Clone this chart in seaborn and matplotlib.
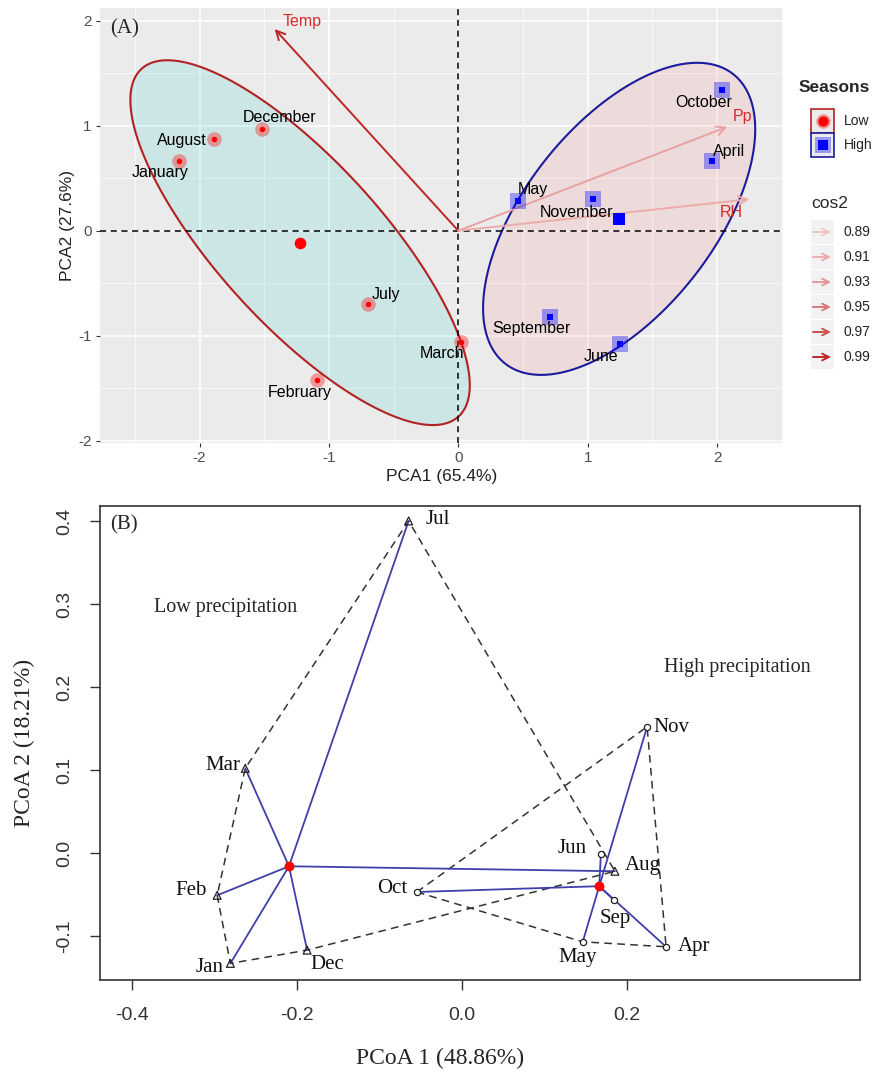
import numpy as np
import pandas as pd
import matplotlib
matplotlib.use('Agg')
import matplotlib.pyplot as plt
import seaborn as sns
from matplotlib.patches import Polygon, Rectangle
from matplotlib.colors import LinearSegmentedColormap, Normalize

# ---- Panel A: PCA biplot ----
months_a = ['January', 'August', 'December', 'July', 'February', 'March',
            'May', 'November', 'October', 'April', 'September', 'June']
pca1 = [-2.16, -1.89, -1.52, -0.70, -1.09, 0.02, 0.46, 1.04, 2.04, 1.96, 0.71, 1.25]
pca2 = [0.66, 0.87, 0.97, -0.70, -1.42, -1.06, 0.28, 0.30, 1.34, 0.66, -0.82, -1.08]
season_a = ['Low'] * 6 + ['High'] * 6
variables = ['Temp', 'Pp', 'RH']
var_pca1 = [-1.42, 2.08, 2.25]
var_pca2 = [1.92, 0.99, 0.30]
var_cos2 = [0.99, 0.92, 0.91]
cos2_levels = [0.89, 0.91, 0.93, 0.95, 0.97, 0.99]

# ---- Panel B: PCoA (betadisper) ----
months_b = ['Jul', 'Mar', 'Feb', 'Jan', 'Dec', 'Aug',
            'Nov', 'Jun', 'Oct', 'Sep', 'May', 'Apr']
pcoa1 = [-0.065, -0.263, -0.297, -0.281, -0.188, 0.185,
         0.224, 0.168, -0.055, 0.184, 0.146, 0.247]
pcoa2 = [0.400, 0.102, -0.051, -0.133, -0.117, -0.022,
         0.152, -0.001, -0.047, -0.057, -0.107, -0.113]
group_b = ['Low'] * 6 + ['High'] * 6
centroid_groups = ['Low', 'High']
centroid_x = [-0.210, 0.166]
centroid_y = [-0.016, -0.040]

df_a = pd.DataFrame({'month': months_a, 'x': pca1, 'y': pca2, 'season': season_a})
df_b = pd.DataFrame({'month': months_b, 'x': pcoa1, 'y': pcoa2, 'group': group_b})

ELLIPSE_SCALE = 2.65


def conf_ellipse(x, y, scale, n=240):
    pts = np.column_stack([x, y])
    mu = pts.mean(axis=0)
    vals, vecs = np.linalg.eigh(np.cov(pts.T) * scale)
    t = np.linspace(0, 2 * np.pi, n)
    circ = np.column_stack([np.cos(t), np.sin(t)]) * np.sqrt(vals)
    return mu + circ @ vecs.T


def convex_hull(pts):
    pts = sorted(map(tuple, pts))

    def cross(o, a, b):
        return (a[0] - o[0]) * (b[1] - o[1]) - (a[1] - o[1]) * (b[0] - o[0])
    lower, upper = [], []
    for p in pts:
        while len(lower) >= 2 and cross(lower[-2], lower[-1], p) <= 0:
            lower.pop()
        lower.append(p)
    for p in reversed(pts):
        while len(upper) >= 2 and cross(upper[-2], upper[-1], p) <= 0:
            upper.pop()
        upper.append(p)
    return np.array(lower[:-1] + upper[:-1])


sns.set_theme(style='white')
plt.rcParams['font.family'] = ['Liberation Sans', 'DejaVu Sans']
plt.rcParams['axes.unicode_minus'] = False

W, H = 872, 1073
fig = plt.figure(figsize=(W / 100, H / 100), dpi=100)


def px_axes(x0, y0, x1, y1):
    return fig.add_axes([x0 / W, 1 - y1 / H, (x1 - x0) / W, (y1 - y0) / H])


# ================= Panel A =================
axA = px_axes(100, 8, 783, 443)
axA.set_facecolor('#EBEBEB')
axA.set_xlim(-2.77, 2.51)
axA.set_ylim(-2.02, 2.12)
axA.set_xticks([-2, -1, 0, 1, 2])
axA.set_yticks([-2, -1, 0, 1, 2])
axA.set_xticks([-2.5, -1.5, -0.5, 0.5, 1.5, 2.5], minor=True)
axA.set_yticks([-1.5, -0.5, 0.5, 1.5], minor=True)
axA.grid(which='major', color='white', lw=1.1, zorder=0)
axA.grid(which='minor', color='white', lw=0.5, zorder=0)
axA.set_axisbelow(True)
for s in axA.spines.values():
    s.set_visible(False)
axA.tick_params(which='major', length=3, width=0.8, color='#333333',
                labelsize=11, labelcolor='#4D4D4D', pad=3,
                left=True, bottom=True)
axA.tick_params(which='minor', length=0)

ell_style = {'Low': dict(face='#00BFC4', edge='#B22222'),
             'High': dict(face='#F8766D', edge='#1C1C9C')}
for g in ['Low', 'High']:
    sub = df_a[df_a.season == g]
    e = conf_ellipse(sub.x, sub.y, ELLIPSE_SCALE)
    axA.add_patch(Polygon(e, closed=True, facecolor=ell_style[g]['face'],
                          alpha=0.13, edgecolor='none', zorder=1))
    axA.add_patch(Polygon(e, closed=True, facecolor='none',
                          edgecolor=ell_style[g]['edge'], lw=1.5, zorder=2))

axA.axhline(0, color='black', lw=1.1, ls=(0, (4, 3)), zorder=3)
axA.axvline(0, color='black', lw=1.1, ls=(0, (4, 3)), zorder=3)

cmap = LinearSegmentedColormap.from_list('cos2', ['#F3C9C9', '#E48A8A', '#B81E1E'])
norm = Normalize(0.885, 0.995)
var_label_off = {'Temp': (27, 8), 'Pp': (15, 10), 'RH': (-18, -13)}
for v, vx, vy, c2 in zip(variables, var_pca1, var_pca2, var_cos2):
    col = cmap(norm(c2))
    axA.annotate('', xy=(vx, vy), xytext=(0, 0),
                 arrowprops=dict(arrowstyle='->', color=col, lw=1.4,
                                 mutation_scale=16, shrinkA=0, shrinkB=0),
                 zorder=4)
    axA.annotate(v, xy=(vx, vy), xytext=var_label_off[v], textcoords='offset pixels',
                 ha='center', va='center', color='#D62A2A', fontsize=11.5, zorder=6)

season_col = {'Low': '#FF0000', 'High': '#0000FF'}
season_mark = {'Low': 'o', 'High': 's'}
halo_size = {'Low': 110, 'High': 140}
for g in ['Low', 'High']:
    sub = df_a[df_a.season == g]
    sns.scatterplot(data=sub, x='x', y='y', ax=axA, color=season_col[g],
                    marker=season_mark[g], s=halo_size[g], alpha=0.35,
                    linewidth=0, zorder=5, legend=False)
    sns.scatterplot(data=sub, x='x', y='y', ax=axA, color=season_col[g],
                    marker=season_mark[g], s=16, linewidth=0, zorder=6, legend=False)
    axA.scatter([sub.x.mean()], [sub.y.mean()], color=season_col[g],
                marker=season_mark[g], s=70, linewidth=0, zorder=6)

label_off_a = {'January': (-19, 11), 'August': (-32, 1), 'December': (18, -11),
               'July': (18, -10), 'February': (-18, 13), 'March': (-19, 11),
               'May': (15, -12), 'November': (-16, 13), 'October': (-19, 13),
               'April': (17, -10), 'September': (-19, 12), 'June': (-19, 12)}
for _, r in df_a.iterrows():
    dx, dy = label_off_a[r.month]
    axA.annotate(r.month, xy=(r.x, r.y), xytext=(dx, -dy), textcoords='offset pixels',
                 ha='center', va='center', fontsize=11.5, color='black', zorder=7)

axA.text(-2.69, 1.92, '(A)', family='Liberation Serif', fontsize=15,
         ha='left', va='center', zorder=8)
axA.set_xlabel('PCA1 (65.4%)', fontsize=12.5, color='#222222')
axA.set_ylabel('PCA2 (27.6%)', fontsize=12.5, color='#222222')
axA.xaxis.set_label_coords(0.5, -0.06)
axA.yaxis.set_label_coords(-0.037, 0.5)

# legend panel A (drawn in pixel space)
axL = px_axes(790, 60, 872, 380)
axL.set_xlim(790, 872)
axL.set_ylim(380, 60)
axL.axis('off')
axL.text(799, 87, 'Seasons', fontsize=12.5, fontweight='bold', ha='left', va='center')
for g, yc in [('Low', 121), ('High', 145)]:
    axL.add_patch(Rectangle((811, yc - 12), 23, 24, facecolor='#EBEBEB',
                            edgecolor=ell_style[g]['edge'], lw=1.2))
    axL.scatter([822.5], [yc], color=season_col[g], marker=season_mark[g],
                s=110 if g == 'Low' else 130, alpha=0.35, linewidth=0)
    axL.scatter([822.5], [yc], color=season_col[g], marker=season_mark[g],
                s=55, linewidth=0)
    axL.text(844, yc, g, fontsize=10, ha='left', va='center', color='#222222')
axL.text(811, 203, 'cos2', fontsize=12.5, ha='left', va='center')
for i, lv in enumerate(cos2_levels):
    yc = 232 + 25 * i
    axL.add_patch(Rectangle((811, yc - 12), 23, 24, facecolor='#F2F2F2',
                            edgecolor='none'))
    axL.annotate('', xy=(831, yc), xytext=(813, yc),
                 arrowprops=dict(arrowstyle='->', color=cmap(norm(lv)), lw=1.4,
                                 mutation_scale=12, shrinkA=0, shrinkB=0))
    axL.text(843, yc, f'{lv:.2f}', fontsize=10, ha='left', va='center', color='#222222')

# ================= Panel B =================
axB = px_axes(100, 506, 860, 980)
axB.set_facecolor('white')
axB.set_xlim(-0.439, 0.482)
axB.set_ylim(-0.153, 0.418)
for s in axB.spines.values():
    s.set_visible(True)
    s.set_color('#333333')
    s.set_linewidth(1.2)
axB.set_xticks([-0.4, -0.2, 0.0, 0.2])
axB.set_yticks([-0.1, 0.0, 0.1, 0.2, 0.3, 0.4])
axB.set_xticklabels(['-0.4', '-0.2', '0.0', '0.2'])
axB.set_yticklabels(['-0.1', '0.0', '0.1', '0.2', '0.3', '0.4'],
                    rotation=90, va='center')
axB.tick_params(direction='out', length=7.5, width=1, color='#333333',
                labelsize=14, labelcolor='#333333', pad=12,
                left=True, bottom=True)

# hulls and spokes
for g, cx, cy in zip(centroid_groups, centroid_x, centroid_y):
    sub = df_b[df_b.group == g]
    hull = convex_hull(sub[['x', 'y']].values)
    hull = np.vstack([hull, hull[:1]])
    axB.plot(hull[:, 0], hull[:, 1], color='#333333', lw=1.1,
             ls=(0, (5, 3.5)), zorder=2)
    for px, py in zip(sub.x, sub.y):
        axB.plot([cx, px], [cy, py], color='#3F3FAA', lw=1.3, zorder=3)

sns.scatterplot(data=df_b[df_b.group == 'Low'], x='x', y='y', ax=axB, marker='^',
                s=32, facecolor='none', edgecolor='#222222', linewidth=0.9,
                zorder=4, legend=False)
sns.scatterplot(data=df_b[df_b.group == 'High'], x='x', y='y', ax=axB, marker='o',
                s=20, facecolor='white', edgecolor='#222222', linewidth=0.9,
                zorder=4, legend=False)
axB.scatter(centroid_x, centroid_y, color='#FF0000', s=50, linewidth=0, zorder=5)

label_off_b = {'Jul': (17, -1, 'left'), 'Mar': (-5, -3, 'right'),
               'Feb': (-10, -5, 'right'), 'Jan': (-7, 4, 'right'),
               'Dec': (20, 14, 'center'), 'Aug': (10, -6, 'left'),
               'Nov': (6, 1, 'left'), 'Jun': (-14, -5, 'right'),
               'Oct': (-9, -4, 'right'), 'Sep': (1, 18, 'center'),
               'May': (-5, 16, 'center'), 'Apr': (12, 0, 'left')}
for _, r in df_b.iterrows():
    dx, dy, ha = label_off_b[r.month]
    axB.annotate(r.month, xy=(r.x, r.y), xytext=(dx, -dy), textcoords='offset pixels',
                 ha=ha, va='center', fontsize=15, family='Liberation Serif',
                 color='#111111', zorder=6)

axB.text(-0.287, 0.296, 'Low precipitation', family='Liberation Serif',
         fontsize=14.5, ha='center', va='center')
axB.text(0.333, 0.224, 'High precipitation', family='Liberation Serif',
         fontsize=14.5, ha='center', va='center')
axB.text(-0.427, 0.395, '(B)', family='Liberation Serif', fontsize=15,
         ha='left', va='center')

axB.set_xlabel('PCoA 1 (48.86%)', family='Liberation Serif', fontsize=17)
axB.set_ylabel('PCoA 2 (18.21%)', family='Liberation Serif', fontsize=17)
axB.xaxis.set_label_coords(0.447, -0.143)
axB.yaxis.set_label_coords(-0.086, 0.5)

fig.savefig('out.png', dpi=100)
